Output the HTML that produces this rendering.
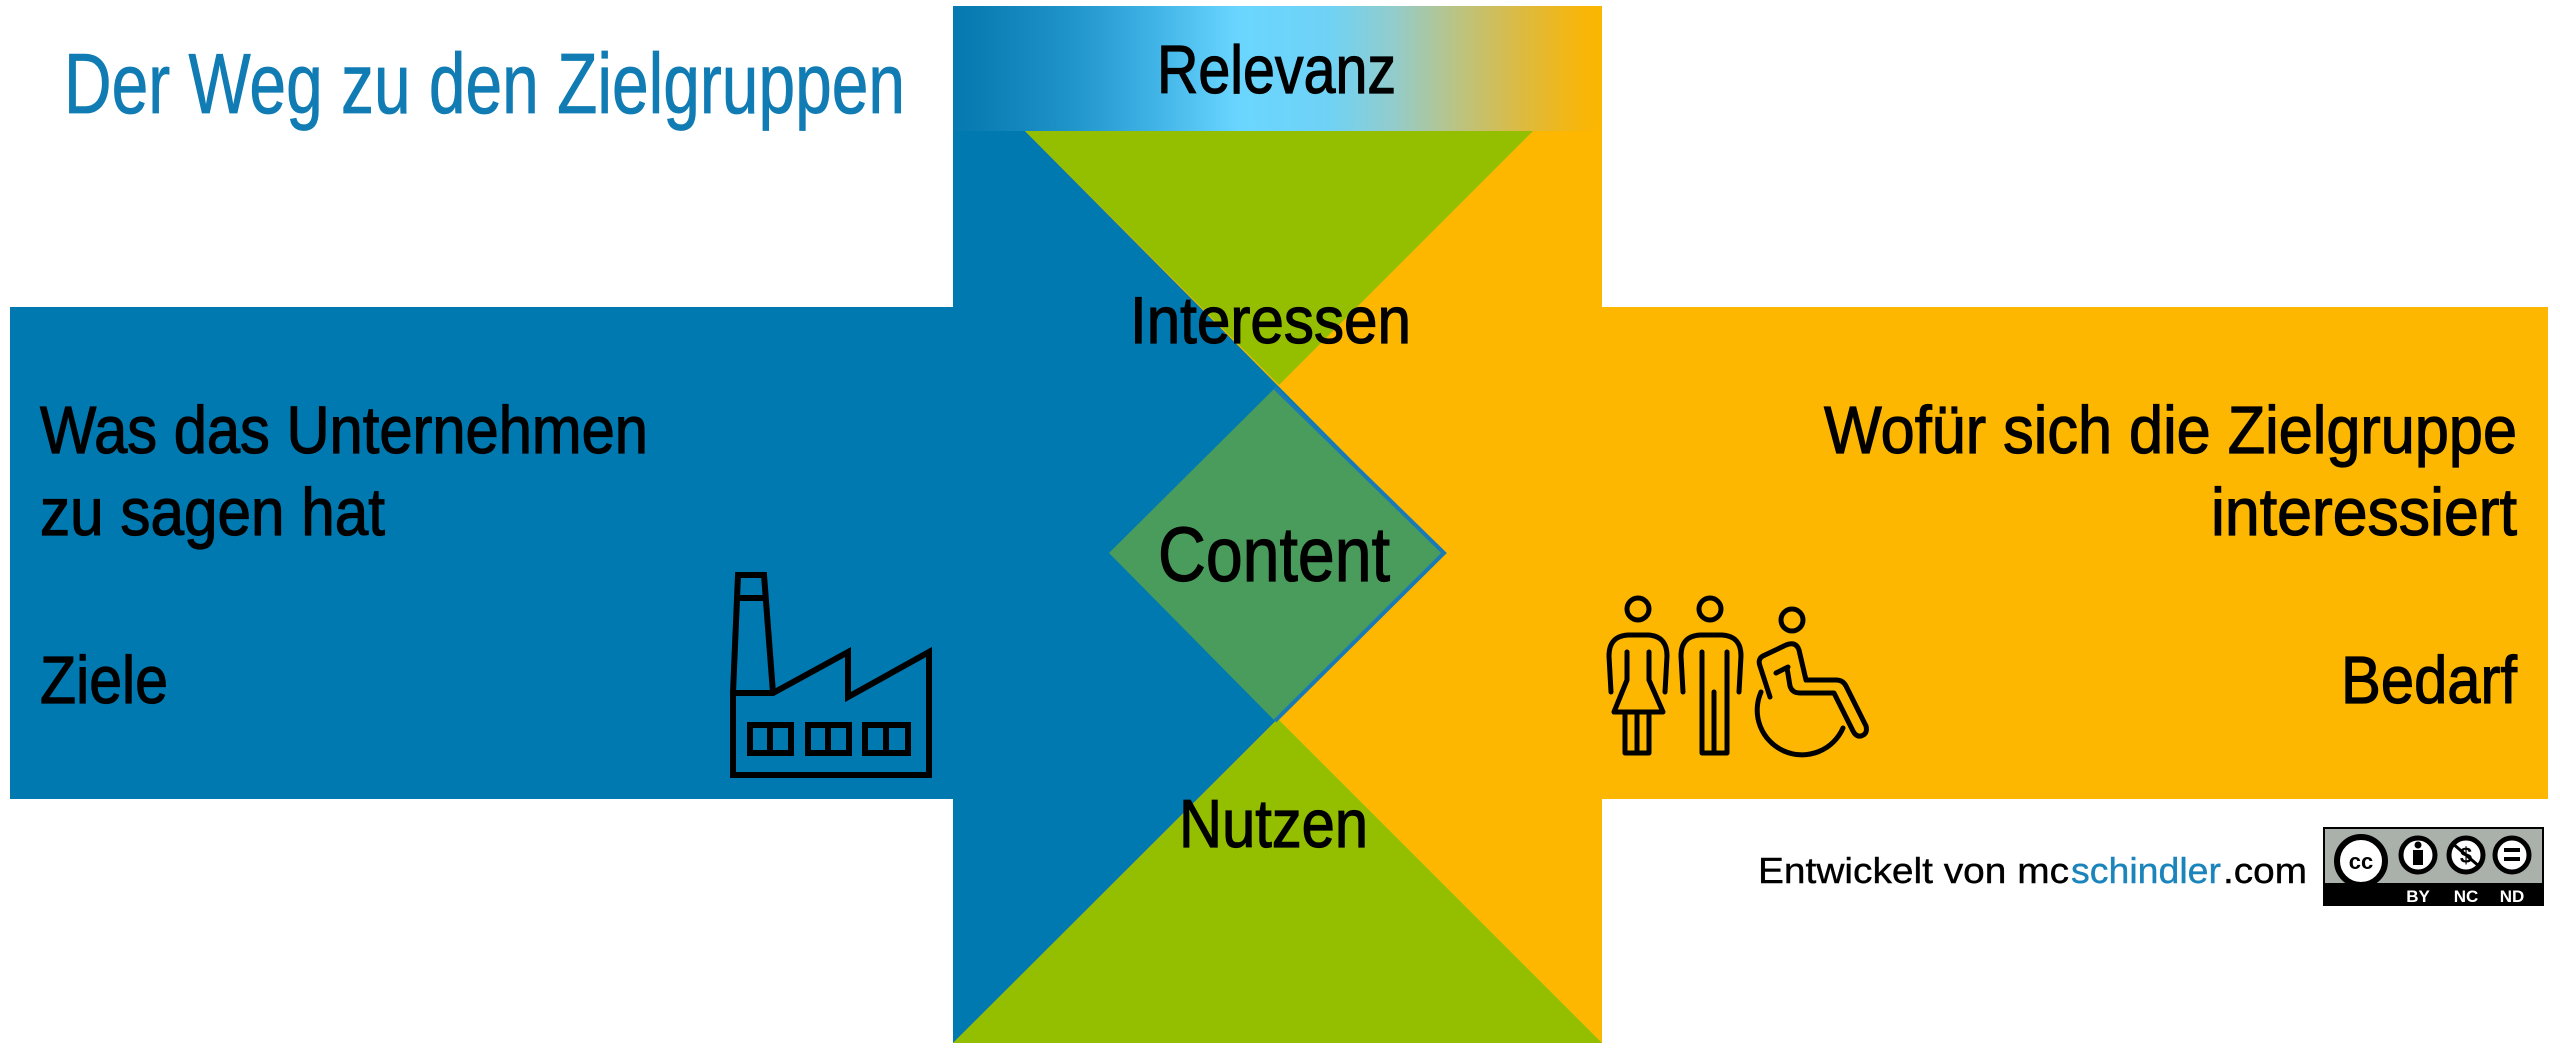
<!DOCTYPE html>
<html>
<head>
<meta charset="utf-8">
<style>
html,body{margin:0;padding:0;background:#fff;}
body{width:2560px;height:1053px;overflow:hidden;}
svg{display:block;}
text{font-family:"Liberation Sans", sans-serif;}
.lbl{fill:#000;stroke:#000;stroke-width:1.2;}
</style>
</head>
<body>
<svg width="2560" height="1053" viewBox="0 0 2560 1053" xmlns="http://www.w3.org/2000/svg">
  <defs>
    <linearGradient id="rel" x1="0" y1="0" x2="1" y2="0">
      <stop offset="0" stop-color="#0579b0"/>
      <stop offset="0.04" stop-color="#0a7db3"/>
      <stop offset="0.18" stop-color="#1f94ca"/>
      <stop offset="0.31" stop-color="#40b3e6"/>
      <stop offset="0.44" stop-color="#6ad6ff"/>
      <stop offset="0.58" stop-color="#6fd2f5"/>
      <stop offset="0.68" stop-color="#93cccb"/>
      <stop offset="0.78" stop-color="#bcc380"/>
      <stop offset="0.88" stop-color="#ddba3e"/>
      <stop offset="0.97" stop-color="#f8b60a"/>
      <stop offset="1" stop-color="#fbb700"/>
    </linearGradient>
  </defs>

  <!-- Title -->
  <text x="64" y="113" font-size="85" fill="#107cb3" stroke="#107cb3" stroke-width="0.8" textLength="841" lengthAdjust="spacingAndGlyphs">Der Weg zu den Zielgruppen</text>

  <!-- horizontal bands -->
  <rect x="10" y="307" width="944" height="492" fill="#0079b0"/>
  <rect x="1601" y="307" width="947" height="492" fill="#fdb700"/>

  <!-- vertical column -->
  <rect x="953" y="131" width="649" height="912" fill="#fdb700"/>
  <polygon points="953,131 1025,131 1444,553 953,1043" fill="#0079b0"/>
  <polygon points="1025,131 1533,131 1279,385" fill="#93bf00"/>
  <polygon points="953,1043 1602,1043 1278,719" fill="#93bf00"/>

  <!-- gradient band -->
  <rect x="953" y="6" width="649" height="125" fill="url(#rel)"/>

  <!-- diamond -->
  <polygon points="1275,388 1444,553 1275,721 1109,553" fill="#4a9c5c"/>
  <polyline points="1275,388 1444,553 1275,721" fill="none" stroke="#1a7ab5" stroke-width="4"/>

  <!-- central labels -->
  <text class="lbl" x="1157" y="93" font-size="68" textLength="239" lengthAdjust="spacingAndGlyphs">Relevanz</text>
  <text class="lbl" x="1130" y="343" font-size="66" textLength="281" lengthAdjust="spacingAndGlyphs">Interessen</text>
  <text class="lbl" x="1158" y="581" font-size="77" textLength="232" lengthAdjust="spacingAndGlyphs">Content</text>
  <text class="lbl" x="1179" y="847" font-size="68" textLength="189" lengthAdjust="spacingAndGlyphs">Nutzen</text>

  <!-- left texts -->
  <text class="lbl" x="40" y="453" font-size="67" textLength="608" lengthAdjust="spacingAndGlyphs">Was das Unternehmen</text>
  <text class="lbl" x="40" y="535" font-size="67" textLength="345" lengthAdjust="spacingAndGlyphs">zu sagen hat</text>
  <text class="lbl" x="40" y="703" font-size="67" textLength="128" lengthAdjust="spacingAndGlyphs">Ziele</text>

  <!-- right texts -->
  <text class="lbl" x="1824" y="453" font-size="67" textLength="693" lengthAdjust="spacingAndGlyphs">Wofür sich die Zielgruppe</text>
  <text class="lbl" x="2211" y="535" font-size="67" textLength="306" lengthAdjust="spacingAndGlyphs">interessiert</text>
  <text class="lbl" x="2341" y="703" font-size="67" textLength="176" lengthAdjust="spacingAndGlyphs">Bedarf</text>

  <!-- factory icon -->
  <g fill="none" stroke="#000" stroke-width="6" stroke-linejoin="miter">
    <path d="M733,693 L738,575 L764,575 L773,693"/>
    <line x1="737" y1="598" x2="766" y2="598"/>
    <path d="M733,693 L733,775 L929,775 L929,652 L848,697 L848,652 L773,693 Z"/>
    <rect x="750" y="725" width="41" height="28"/>
    <line x1="770" y1="725" x2="770" y2="753"/>
    <rect x="808" y="725" width="41" height="28"/>
    <line x1="828" y1="725" x2="828" y2="753"/>
    <rect x="865" y="725" width="43" height="28"/>
    <line x1="886" y1="725" x2="886" y2="753"/>
  </g>

  <!-- people icons -->
  <g fill="none" stroke="#000" stroke-width="5" stroke-linejoin="round" stroke-linecap="round">
    <!-- woman -->
    <circle cx="1638" cy="609" r="11"/>
    <path d="M1611,692 L1609,656 Q1609,636 1628,635 L1648,635 Q1667,636 1667,656 L1665,692"/>
    <path d="M1627,652 L1627,680 L1614,712 L1663,712 L1649,680 L1649,652"/>
    <path d="M1625,712 L1625,753 L1649,753 L1649,712"/>
    <line x1="1637" y1="712" x2="1637" y2="753"/>
    <!-- man -->
    <circle cx="1710" cy="609" r="11"/>
    <path d="M1683,692 L1681,656 Q1681,636 1700,635 L1722,635 Q1741,636 1741,656 L1739,692"/>
    <path d="M1702,652 L1702,753 L1727,753 L1727,652"/>
    <line x1="1714" y1="692" x2="1714" y2="753"/>
    <!-- wheelchair -->
    <circle cx="1792" cy="620" r="11"/>
    <path d="M1770,697 L1760,666 Q1757,658 1765,655 L1786,645 Q1796,641 1799,650 L1806,680 L1836,680 Q1843,680 1846,686 L1866,726 Q1868,734 1861,736 Q1856,737 1853,731 L1834,693 L1800,693 Q1792,693 1790,686 L1787,668"/>
    <path d="M1776,673 L1788,667"/>
    <path d="M1761,692 A44,44 0 1,0 1843,728"/>
  </g>

  <!-- footer -->
  <text x="1758" y="883" font-size="36" fill="#000" stroke="#000" stroke-width="0.4" textLength="311" lengthAdjust="spacingAndGlyphs">Entwickelt von mc</text>
  <text x="2071" y="883" font-size="36" fill="#1b84bb" stroke="#1b84bb" stroke-width="0.4" textLength="150" lengthAdjust="spacingAndGlyphs">schindler</text>
  <text x="2223" y="883" font-size="36" fill="#000" stroke="#000" stroke-width="0.4" textLength="84" lengthAdjust="spacingAndGlyphs">.com</text>

  <!-- CC badge -->
  <rect x="2324" y="828" width="219" height="77" fill="#aab0aa" stroke="#000" stroke-width="2"/>
  <rect x="2324" y="883" width="219" height="22" fill="#000"/>
  <circle cx="2361" cy="861" r="24" fill="#fff" stroke="#000" stroke-width="6"/>
  <text x="2361" y="869" font-size="22" font-weight="bold" fill="#000" text-anchor="middle">cc</text>
  <circle cx="2418" cy="855" r="17" fill="#fff" stroke="#000" stroke-width="5"/>
  <circle cx="2418" cy="845" r="3.5" fill="#000"/>
  <rect x="2413" y="850" width="10" height="15" fill="#000"/>
  <circle cx="2466" cy="855" r="17" fill="#fff" stroke="#000" stroke-width="5"/>
  <text x="2466" y="863" font-size="22" font-weight="bold" fill="#000" text-anchor="middle">$</text>
  <line x1="2452" y1="843" x2="2480" y2="867" stroke="#000" stroke-width="3"/>
  <circle cx="2512" cy="855" r="17" fill="#fff" stroke="#000" stroke-width="5"/>
  <rect x="2504" y="848" width="16" height="4" fill="#000"/>
  <rect x="2504" y="857" width="16" height="4" fill="#000"/>
  <text x="2418" y="902" font-size="17" font-weight="bold" fill="#fff" text-anchor="middle">BY</text>
  <text x="2466" y="902" font-size="17" font-weight="bold" fill="#fff" text-anchor="middle">NC</text>
  <text x="2512" y="902" font-size="17" font-weight="bold" fill="#fff" text-anchor="middle">ND</text>
</svg>
</body>
</html>
